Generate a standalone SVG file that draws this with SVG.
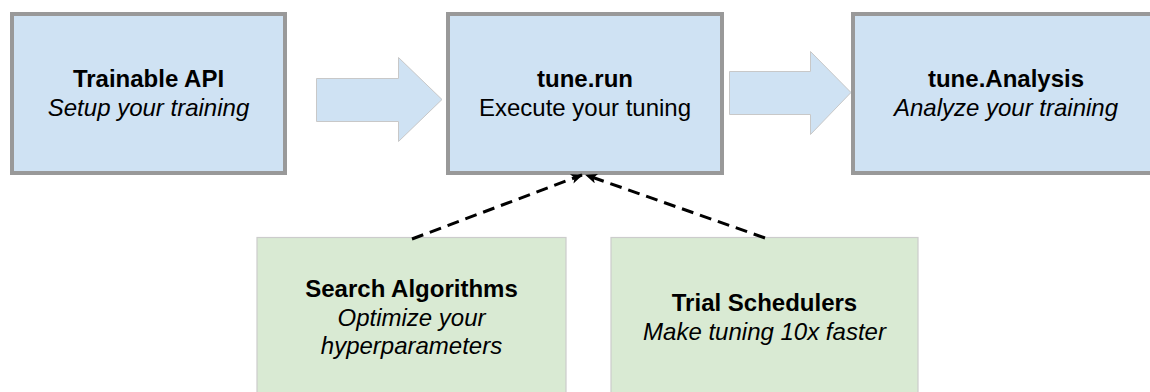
<svg xmlns="http://www.w3.org/2000/svg" width="1150" height="392" viewBox="0 0 1150 392">
  <style>
    .main { fill: #cfe2f3; stroke: #999999; stroke-width: 4; }
    .side { fill: #d9ead3; stroke: #cccccc; stroke-width: 1.2; }
    .flow { fill: #cfe2f3; stroke: #c8c8c8; stroke-width: 1; stroke-linejoin: miter; }
    .dash { fill: none; stroke: #000000; stroke-width: 3; stroke-dasharray: 12 7; }
    text { font-family: "Liberation Sans", Arial, sans-serif; font-size: 24px; fill: #000000; text-anchor: middle; }
    .title { font-weight: bold; }
    .sub { font-style: italic; }
  </style>
  <defs>
    <marker id="head" viewBox="0 0 12 10" refX="11" refY="5" markerWidth="12" markerHeight="10" markerUnits="userSpaceOnUse" orient="auto">
      <path d="M0,0 L12,5 L0,10 L3,5 z" fill="#000000"/>
    </marker>
  </defs>

  <!-- block arrows between the main stages -->
  <g id="flow-arrows">
    <path class="flow" d="M316.5,78.5 H398.5 V57.5 L442,99.5 L398.5,141.5 V121.5 H316.5 Z"/>
    <path class="flow" d="M729.5,71.5 H810.5 V51.5 L851,92.5 L810.5,134.5 V114.5 H729.5 Z"/>
  </g>

  <g id="trainable">
    <rect class="main" x="12" y="14" width="273" height="159"/>
    <text class="title" x="148.5" y="87">Trainable API</text>
    <text class="sub" x="148.5" y="116">Setup your training</text>
  </g>

  <g id="tune-run">
    <rect class="main" x="448" y="14" width="274" height="159"/>
    <text class="title" x="585" y="87">tune.run</text>
    <text x="585" y="116">Execute your tuning</text>
  </g>

  <g id="tune-analysis">
    <rect class="main" x="853" y="14" width="306" height="159"/>
    <text class="title" x="1006" y="87">tune.Analysis</text>
    <text class="sub" x="1006" y="116">Analyze your training</text>
  </g>

  <g id="search-algorithms">
    <rect class="side" x="257" y="237.5" width="309" height="170"/>
    <text class="title" x="411.5" y="297">Search Algorithms</text>
    <text class="sub" x="411.5" y="326">Optimize your</text>
    <text class="sub" x="411.5" y="354">hyperparameters</text>
  </g>

  <g id="trial-schedulers">
    <rect class="side" x="611" y="237.5" width="307" height="170"/>
    <text class="title" x="764.5" y="311">Trial Schedulers</text>
    <text class="sub" x="764.5" y="340">Make tuning 10x faster</text>
  </g>

  <!-- dashed feeds into tune.run -->
  <g id="connectors">
    <line class="dash" x1="412" y1="239" x2="582" y2="175" marker-end="url(#head)"/>
    <line class="dash" x1="765" y1="238" x2="586" y2="175" marker-end="url(#head)"/>
  </g>
</svg>
